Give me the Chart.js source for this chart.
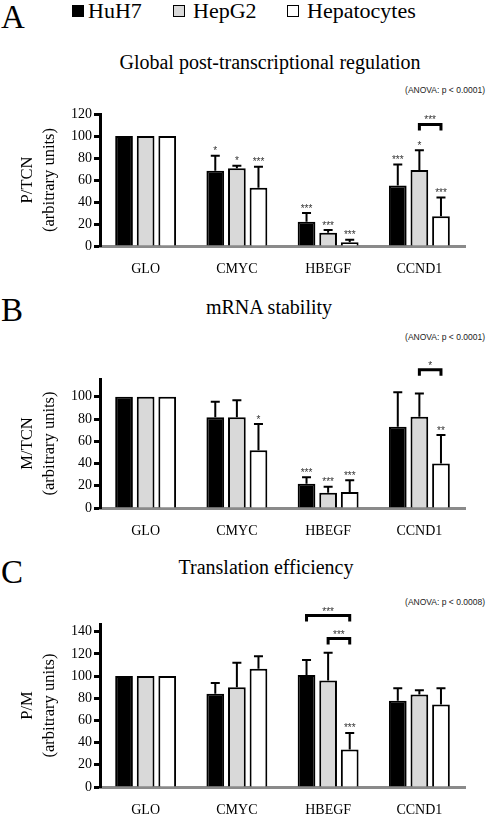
<!DOCTYPE html>
<html>
<head>
<meta charset="utf-8">
<script src="https://cdn.jsdelivr.net/npm/chart.js@4.4.1/dist/chart.umd.min.js"></script>
<style>
body { margin: 0; width: 486px; height: 814px; position: relative; overflow: hidden; background: #fff; font-family: 'Liberation Serif', 'Times New Roman', serif; color: #000; }
.abs { position: absolute; line-height: 1; white-space: nowrap; }
.letter { font-size: 33px; left: 1px; }
.title { font-size: 20px; transform: translateX(-50%); }
.anova { font-family: 'Liberation Sans', Arial, sans-serif; font-size: 8.5px; color: #222; right: 1px; }
.key { font-size: 22px; top: 0px; }
.box { position: absolute; width: 10px; height: 10px; border: 1px solid #000; top: 5px; }
canvas { position: absolute; left: 0; }
</style>
</head>
<body>
<div class="abs letter" style="top:1px">A</div>
<div class="box" style="left:72px;background:#000"></div>
<div class="abs key" style="left:88px">HuH7</div>
<div class="box" style="left:173px;background:#d9d9d9"></div>
<div class="abs key" style="left:193px">HepG2</div>
<div class="box" style="left:287px;background:#fff"></div>
<div class="abs key" style="left:307px">Hepatocytes</div>
<div class="abs title" style="left:270px;top:52px">Global post-transcriptional regulation</div>
<div class="abs anova" style="top:86px">(ANOVA: p &lt; 0.0001)</div>
<canvas id="chartA" width="486" height="190" style="top:100px"></canvas>

<div class="abs letter" style="top:294px">B</div>
<div class="abs title" style="left:269px;top:297px">mRNA stability</div>
<div class="abs anova" style="top:333px">(ANOVA: p &lt; 0.0001)</div>
<canvas id="chartB" width="486" height="207" style="top:345px"></canvas>

<div class="abs letter" style="top:556px">C</div>
<div class="abs title" style="left:266px;top:557px">Translation efficiency</div>
<div class="abs anova" style="top:598px">(ANOVA: p &lt; 0.0008)</div>
<canvas id="chartC" width="486" height="214" style="top:600px"></canvas>

<script>
const categories = ['GLO', 'CMYC', 'HBEGF', 'CCND1'];
const seriesNames = ['HuH7', 'HepG2', 'Hepatocytes'];
const seriesColors = ['#000000', '#d9d9d9', '#ffffff'];

// A: P/TCN
const yTicksA = [0, 20, 40, 60, 80, 100, 120];
const huh7A = [100, 68.5, 22, 55];
const hepg2A = [100, 70.6, 12, 69];
const hepA = [100, 53, 3.4, 27];
const huh7ErrA = [null, 82, 30, 74];
const hepg2ErrA = [null, 73, 14.5, 87];
const hepErrA = [null, 72, 5.7, 44];
const huh7StarsA = ['', '*', '***', '***'];
const hepg2StarsA = ['', '*', '***', '*'];
const hepStarsA = ['', '***', '***', '***'];

// B: M/TCN
const yTicksB = [0, 20, 40, 60, 80, 100];
const huh7B = [100, 81.5, 21.8, 73];
const hepg2B = [100, 81.5, 13.8, 82];
const hepB = [100, 52, 14.4, 40];
const huh7ErrB = [null, 95.5, 27.6, 104];
const hepg2ErrB = [null, 97, 19, 103];
const hepErrB = [null, 75.5, 25, 65.6];
const huh7StarsB = ['', '', '***', ''];
const hepg2StarsB = ['', '', '***', ''];
const hepStarsB = ['', '*', '***', '**'];

// C: P/M
const yTicksC = [0, 20, 40, 60, 80, 100, 120, 140];
const huh7C = [100, 84, 101, 77.7];
const hepg2C = [100, 90, 96, 83.4];
const hepC = [100, 106.6, 33.8, 74.4];
const huh7ErrC = [null, 93.7, 114.5, 89];
const hepg2ErrC = [null, 112, 121, 87.3];
const hepErrC = [null, 118, 48.8, 89];
const huh7StarsC = ['', '', '', ''];
const hepg2StarsC = ['', '', '', ''];
const hepStarsC = ['', '', '***', ''];

// brackets: [category, from series, to series, y value, label]
const bracketsA = [[3, 1, 2, 110.5, '***']];
const bracketsB = [[3, 1, 2, 124.4, '*']];
const bracketsC = [[2, 0, 2, 154.6, '***'], [2, 1, 2, 133.9, '***']];

const serif = "'Liberation Serif', 'Times New Roman', serif";
const sans = "'Liberation Sans', Arial, sans-serif";

function makePanel(id, values, errors, stars, brackets, yTicks, yMax, yTitle, padTop, xHeight) {
    const marks = {
        id: 'marks',
        afterDatasetsDraw(chart) {
            const ctx = chart.ctx;
            const y = chart.scales.y;
            ctx.save();
            ctx.strokeStyle = '#000';
            ctx.lineWidth = 2;
            ctx.font = '10px ' + sans;
            ctx.fillStyle = '#333';
            ctx.textAlign = 'center';
            ctx.textBaseline = 'alphabetic';
            values.forEach((v, d) => {
                const meta = chart.getDatasetMeta(d);
                meta.data.forEach((el, i) => {
                    const err = errors[d][i];
                    if (err === null) return;
                    const yE = y.getPixelForValue(err);
                    ctx.beginPath();
                    ctx.moveTo(el.x, el.y);
                    ctx.lineTo(el.x, yE);
                    ctx.moveTo(el.x - 4.5, yE);
                    ctx.lineTo(el.x + 4.5, yE);
                    ctx.stroke();
                    if (stars[d][i]) ctx.fillText(stars[d][i], el.x, yE - 1.5);
                });
            });
            ctx.lineWidth = 3;
            ctx.lineJoin = 'miter';
            brackets.forEach(b => {
                const x1 = chart.getDatasetMeta(b[1]).data[b[0]].x;
                const x2 = chart.getDatasetMeta(b[2]).data[b[0]].x;
                const yB = y.getPixelForValue(b[3]);
                ctx.beginPath();
                ctx.moveTo(x1, yB + 6);
                ctx.lineTo(x1, yB);
                ctx.lineTo(x2, yB);
                ctx.lineTo(x2, yB + 6);
                ctx.stroke();
                ctx.fillText(b[4], (x1 + x2) / 2, yB - 1);
            });
            ctx.restore();
        }
    };

    new Chart(document.getElementById(id), {
        type: 'bar',
        data: {
            labels: categories,
            datasets: values.map((vals, d) => ({
                label: seriesNames[d],
                data: vals,
                backgroundColor: seriesColors[d],
                borderColor: '#000',
                borderWidth: 2,
                categoryPercentage: 0.71,
                barPercentage: 0.82
            }))
        },
        options: {
            responsive: false,
            animation: false,
            layout: { padding: { top: padTop, right: 21, left: 0, bottom: 0 } },
            plugins: { legend: { display: false }, tooltip: { enabled: false } },
            scales: {
                x: {
                    afterFit: (scale) => { scale.height = xHeight; },
                    grid: { display: false, drawTicks: false },
                    border: { color: '#8a8a8a', width: 3 },
                    ticks: { color: '#000', padding: 15, font: { family: serif, size: 14 } }
                },
                y: {
                    min: 0,
                    max: yMax,
                    afterFit: (scale) => { scale.width = 100; },
                    afterBuildTicks: (scale) => { scale.ticks = yTicks.map(v => ({ value: v })); },
                    border: { color: '#000', width: 3 },
                    grid: { drawOnChartArea: false, drawTicks: true, tickLength: 6, tickWidth: 3, tickColor: '#000' },
                    ticks: { color: '#000', padding: 2, font: { family: serif, size: 14 } },
                    title: {
                        display: true,
                        text: yTitle,
                        color: '#000',
                        font: { family: serif, size: 16.5, lineHeight: 1.3 },
                        padding: { top: 17, bottom: 0 }
                    }
                }
            }
        },
        plugins: [marks]
    });
}

makePanel('chartA', [huh7A, hepg2A, hepA], [huh7ErrA, hepg2ErrA, hepErrA],
    [huh7StarsA, hepg2StarsA, hepStarsA], bracketsA, yTicksA, 120, ['P/TCN', '(arbitrary units)'], 14, 44);
makePanel('chartB', [huh7B, hepg2B, hepB], [huh7ErrB, hepg2ErrB, hepErrB],
    [huh7StarsB, hepg2StarsB, hepStarsB], bracketsB, yTicksB, 116, ['M/TCN', '(arbitrary units)'], 34, 44);
makePanel('chartC', [huh7C, hepg2C, hepC], [huh7ErrC, hepg2ErrC, hepErrC],
    [huh7StarsC, hepg2StarsC, hepStarsC], bracketsC, yTicksC, 147, ['P/M', '(arbitrary units)'], 24, 27);
</script>
</body>
</html>
